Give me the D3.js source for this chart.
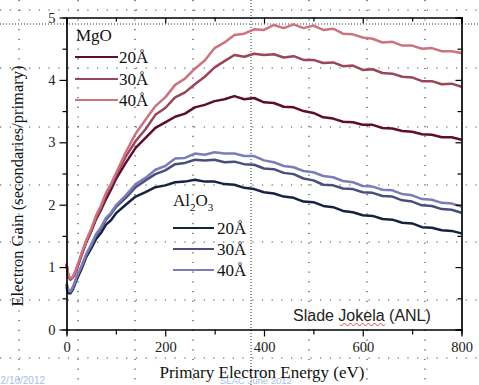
<!DOCTYPE html>
<html><head><meta charset="utf-8">
<script src="https://cdn.jsdelivr.net/npm/d3@7"></script>
<style>
html,body{margin:0;padding:0;background:#fff;overflow:hidden;}
svg{display:block;}
</style></head>
<body>
<svg id="c" width="479" height="385"></svg>
<script>
const energy = [0,4,8,12,16,20,30,40,50,60,70,80,90,100,120,140,160,180,200,220,240,260,280,300,320,340,360,380,400,420,440,460,480,500,520,540,560,580,600,620,640,660,680,700,720,740,760,780,800];
const mgo40 = [1.06,0.86,0.82,0.84,0.90,0.98,1.21,1.43,1.61,1.83,1.99,2.19,2.33,2.50,2.84,3.14,3.36,3.58,3.72,3.92,4.02,4.18,4.31,4.51,4.60,4.72,4.74,4.81,4.80,4.88,4.83,4.89,4.83,4.87,4.80,4.82,4.74,4.73,4.68,4.66,4.60,4.61,4.55,4.55,4.50,4.51,4.46,4.46,4.43];
const mgo30 = [1.05,0.85,0.81,0.83,0.88,0.96,1.19,1.41,1.59,1.79,1.95,2.15,2.30,2.47,2.77,3.02,3.21,3.44,3.55,3.72,3.80,3.93,4.05,4.20,4.30,4.40,4.37,4.42,4.40,4.41,4.36,4.38,4.32,4.32,4.27,4.28,4.22,4.23,4.16,4.17,4.11,4.10,4.05,4.04,3.98,3.98,3.93,3.94,3.89];
const mgo20 = [1.04,0.84,0.80,0.83,0.88,0.95,1.18,1.40,1.57,1.77,1.92,2.09,2.24,2.41,2.67,2.91,3.07,3.23,3.32,3.41,3.46,3.56,3.60,3.66,3.69,3.74,3.69,3.71,3.64,3.63,3.57,3.56,3.50,3.47,3.40,3.38,3.33,3.32,3.28,3.28,3.23,3.22,3.18,3.17,3.13,3.12,3.08,3.08,3.04];
const al40 = [0.74,0.63,0.61,0.67,0.74,0.84,1.01,1.21,1.36,1.53,1.64,1.79,1.87,1.99,2.15,2.33,2.43,2.56,2.62,2.74,2.75,2.82,2.80,2.84,2.82,2.82,2.78,2.78,2.71,2.68,2.62,2.60,2.54,2.52,2.46,2.44,2.38,2.36,2.30,2.29,2.24,2.23,2.17,2.15,2.09,2.08,2.03,2.02,1.97];
const al30 = [0.72,0.61,0.60,0.65,0.72,0.82,0.99,1.19,1.34,1.51,1.62,1.76,1.85,1.96,2.11,2.28,2.39,2.49,2.55,2.65,2.67,2.72,2.71,2.72,2.68,2.69,2.65,2.64,2.58,2.57,2.51,2.49,2.42,2.39,2.32,2.31,2.26,2.25,2.20,2.19,2.14,2.13,2.07,2.05,1.99,1.98,1.93,1.92,1.87];
const al20 = [0.68,0.58,0.58,0.63,0.70,0.79,0.96,1.16,1.30,1.45,1.55,1.68,1.75,1.86,2.00,2.13,2.20,2.28,2.31,2.36,2.37,2.40,2.37,2.37,2.33,2.32,2.27,2.25,2.20,2.18,2.13,2.11,2.05,2.04,1.98,1.96,1.90,1.88,1.83,1.82,1.77,1.76,1.71,1.70,1.64,1.63,1.59,1.58,1.54];
const thicknessLabels = ["20Å","30Å","40Å"];
const xTicks = [0,200,400,600,800];
const xMinor = [100,300,500,700];
const yTicks = [0,1,2,3,4,5];
const yMinor = [0.5,1.5,2.5,3.5,4.5];

const mgoColors = ["#5e0c30","#9a4558","#cc737f"];
const alColors = ["#172240","#4a4e7c","#7b7db6"];

const svg = d3.select("#c");
const x = d3.scaleLinear().domain([0,800]).range([66.5,461.5]);
const y = d3.scaleLinear().domain([0,5]).range([329.5,17.5]);

// slide background dotted grid
const bg = svg.append("g");
const gcols = [19,78,135,193,309,367,425];
const grows = [10,68,127,185,242,300,358];
gcols.forEach(c=>bg.append("line").attr("x1",c).attr("x2",c).attr("y1",0).attr("y2",385)
  .attr("stroke","#444").attr("stroke-width",1.2).attr("stroke-dasharray","1.2,8.5"));
grows.forEach(r=>bg.append("line").attr("x1",0).attr("x2",479).attr("y1",r).attr("y2",r)
  .attr("stroke","#444").attr("stroke-width",1.2).attr("stroke-dasharray","1.2,8.5"));
bg.append("line").attr("x1",251).attr("x2",251).attr("y1",0).attr("y2",385)
  .attr("stroke","#333").attr("stroke-width",1).attr("stroke-dasharray","1,2");
bg.append("line").attr("x1",0).attr("x2",479).attr("y1",24).attr("y2",24)
  .attr("stroke","#333").attr("stroke-width",1).attr("stroke-dasharray","1,2");

// curves
const line = d3.line().x((d,i)=>x(energy[i])).y(d=>y(d));
const series = [[mgo20,mgoColors[0]],[mgo30,mgoColors[1]],[mgo40,mgoColors[2]],[al20,alColors[0]],[al30,alColors[1]],[al40,alColors[2]]];
series.forEach(([vals,col])=>{
  svg.append("path").datum(vals).attr("d",line).attr("fill","none")
    .attr("stroke",col).attr("stroke-width",2.5).attr("stroke-linejoin","round");
});

// axes
const serif = "Liberation Serif, Times New Roman, serif";
function styleAxis(g){ g.attr("font-family",serif);
  g.select(".domain").attr("stroke","#000").attr("stroke-width",1.2);
  g.selectAll(".tick line").attr("stroke","#000").attr("stroke-width",1.2);
  g.selectAll("text").attr("font-family",serif).attr("font-size","14.5px").attr("fill","#222"); }
svg.append("g").attr("transform","translate(0,329.5)")
  .call(d3.axisBottom(x).tickValues(xTicks).tickFormat(d3.format("d")).tickSizeInner(7).tickSizeOuter(0).tickPadding(5)).call(styleAxis);
svg.append("g").attr("transform","translate(0,329.5)")
  .call(d3.axisBottom(x).tickValues(xMinor).tickSize(5).tickFormat("")).call(styleAxis);
svg.append("g").attr("transform","translate(0,17.5)")
  .call(d3.axisTop(x).tickValues(xTicks).tickSize(-6).tickFormat("")).call(styleAxis);
svg.append("g").attr("transform","translate(0,17.5)")
  .call(d3.axisTop(x).tickValues(xMinor).tickSize(-4).tickFormat("")).call(styleAxis);
svg.append("g").attr("transform","translate(66.5,0)")
  .call(d3.axisLeft(y).tickValues(yTicks).tickFormat(d3.format("d")).tickSizeInner(7).tickSizeOuter(0).tickPadding(4)).call(styleAxis);
svg.append("g").attr("transform","translate(66.5,0)")
  .call(d3.axisLeft(y).tickValues(yMinor).tickSize(4).tickFormat("")).call(styleAxis);
svg.append("g").attr("transform","translate(461.5,0)")
  .call(d3.axisRight(y).tickValues(yTicks).tickSize(-6).tickFormat("")).call(styleAxis);
svg.append("g").attr("transform","translate(461.5,0)")
  .call(d3.axisRight(y).tickValues(yMinor).tickSize(-4).tickFormat("")).call(styleAxis);

// axis titles
svg.append("text").attr("x",262).attr("y",378).attr("text-anchor","middle")
  .attr("font-family",serif).attr("font-size","17px").attr("fill","#111").text("Primary Electron Energy (eV)");
svg.append("text").attr("transform","translate(23,186) rotate(-90)").attr("text-anchor","middle")
  .attr("font-family",serif).attr("font-size","16.5px").attr("fill","#111").text("Electron Gain (secondaries/primary)");

// MgO legend
svg.append("text").attr("x",76).attr("y",41).attr("font-family",serif).attr("font-size","17px").attr("fill","#111").text("MgO");
const mgoLegY = [57,79,100];
thicknessLabels.forEach((t,i)=>{
  svg.append("line").attr("x1",75).attr("x2",118).attr("y1",mgoLegY[i]).attr("y2",mgoLegY[i])
    .attr("stroke",mgoColors[i]).attr("stroke-width",2);
  svg.append("text").attr("x",119).attr("y",mgoLegY[i]+6).attr("font-family",serif).attr("font-size","17px").attr("fill","#111").text(t);
});
// Al2O3 legend
const alT = svg.append("text").attr("x",173).attr("y",206).attr("font-family",serif).attr("font-size","17px").attr("fill","#111");
alT.append("tspan").text("Al");
alT.append("tspan").attr("dy",5).attr("font-size","11px").text("2");
alT.append("tspan").attr("dy",-5).text("O");
alT.append("tspan").attr("dy",5).attr("font-size","11px").text("3");
const alLegY = [228,249,270];
thicknessLabels.forEach((t,i)=>{
  svg.append("line").attr("x1",173).attr("x2",214).attr("y1",alLegY[i]).attr("y2",alLegY[i])
    .attr("stroke",alColors[i]).attr("stroke-width",2);
  svg.append("text").attr("x",217).attr("y",alLegY[i]+6).attr("font-family",serif).attr("font-size","17px").attr("fill","#111").text(t);
});

// credit
svg.append("text").attr("x",293).attr("y",321).attr("font-family","Liberation Sans, Arial, sans-serif")
  .attr("font-size","16px").attr("fill","#222").text("Slade Jokela (ANL)");
let sq = "M340,324.5";
for(let k=0;k<15;k++){ sq += " l1.5," + (k%2===0?1.5:-1.5) + " l1.5," + (k%2===0?-1.5:1.5); }
svg.append("path").attr("d",sq).attr("fill","none").attr("stroke","#e03030").attr("stroke-width",0.9);

// footer
svg.append("text").attr("x",-5).attr("y",384).attr("font-family","Liberation Sans, Arial, sans-serif")
  .attr("font-size","10px").attr("fill","#a9bfe6").text("12/16/2012");
svg.append("text").attr("x",220).attr("y",384).attr("font-family","Liberation Sans, Arial, sans-serif")
  .attr("font-size","9.5px").attr("fill","#a9bfe6").text("SLAC June 2012");
</script>
</body></html>
